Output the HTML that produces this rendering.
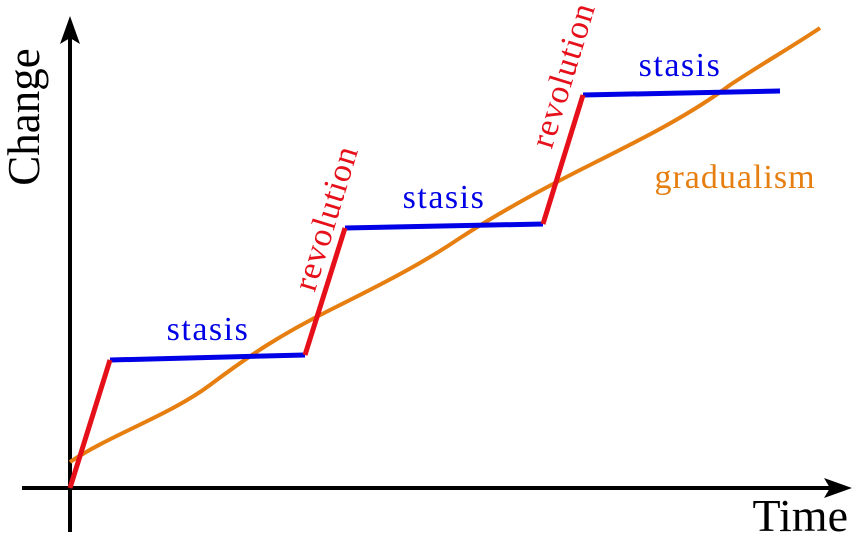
<!DOCTYPE html>
<html><head><style>body{margin:0;background:#fff}svg{display:block}text{font-family:"Liberation Serif","DejaVu Serif",serif}</style></head><body>
<svg width="859" height="537" viewBox="0 0 859 537" xmlns="http://www.w3.org/2000/svg">
<line x1="70" y1="532" x2="70" y2="38" stroke="#000" stroke-width="4"/>
<polygon points="70,16 60,44 70,38 80,44" fill="#000"/>
<line x1="22" y1="488" x2="830" y2="488" stroke="#000" stroke-width="4"/>
<polygon points="852,488 824,478 830,488 824,498" fill="#000"/>
<path d="M70,462 C110,435 170,415 210,385 C250,355 280,335 330,310 C380,285 420,265 460,238 C500,212 540,190 590,165 C640,140 690,115 730,85 C760,65 790,48 820,28" fill="none" stroke="#e67e10" stroke-width="4"/>
<g stroke="#0000e6" stroke-width="5" fill="none">
<line x1="110" y1="360" x2="305" y2="355"/>
<line x1="345" y1="228" x2="543" y2="224"/>
<line x1="583" y1="95" x2="780" y2="91"/>
</g>
<g stroke="#e6101a" stroke-width="5" fill="none">
<line x1="70" y1="488" x2="110" y2="360"/>
<line x1="305" y1="355" x2="345" y2="228"/>
<line x1="543" y1="224" x2="583" y2="95"/>
</g>
<text x="24" y="117" font-size="45" text-anchor="middle" transform="rotate(-90 24 117)" dy="15">Change</text>
<text x="848" y="531" font-size="46" text-anchor="end">Time</text>
<text x="208" y="340" fill="#0000e6" font-size="34" text-anchor="middle" letter-spacing="1.5">stasis</text>
<text x="444" y="208" fill="#0000e6" font-size="34" text-anchor="middle" letter-spacing="1.5">stasis</text>
<text x="680" y="76" fill="#0000e6" font-size="34" text-anchor="middle" letter-spacing="1.5">stasis</text>
<text x="735" y="188" fill="#e67e10" font-size="34" text-anchor="middle" letter-spacing="1">gradualism</text>
<text x="326" y="218" fill="#e6101a" font-size="34" text-anchor="middle" letter-spacing="1" transform="rotate(-73 326 218)" dy="11">revolution</text>
<text x="563" y="75" fill="#e6101a" font-size="34" text-anchor="middle" letter-spacing="1" transform="rotate(-73 563 75)" dy="11">revolution</text>
</svg>
</body></html>
